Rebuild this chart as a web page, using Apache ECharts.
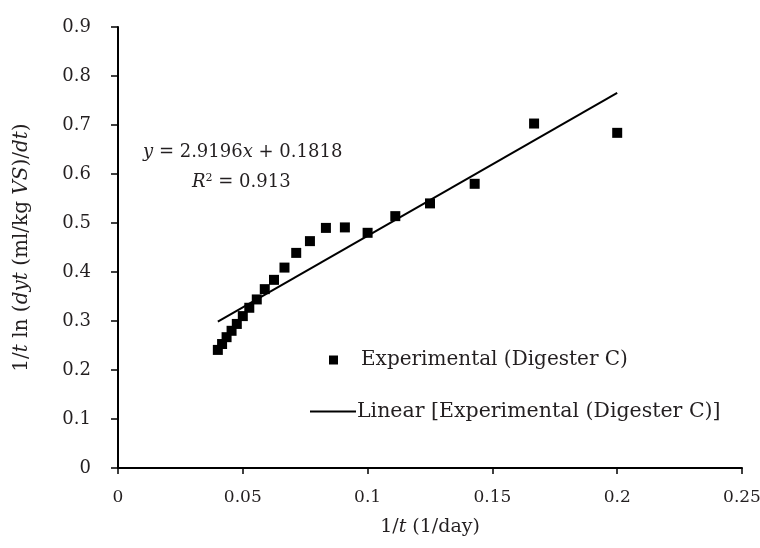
<!DOCTYPE html>
<html>
<head>
<meta charset="utf-8">
<script src="https://cdn.jsdelivr.net/npm/echarts@6/dist/echarts.min.js"></script>
<style>
  html, body { margin: 0; padding: 0; background: #fff; }
  #chart { width: 760px; height: 548px; }
</style>
</head>
<body>
<div id="chart"></div>
<script>
// 1/t values (1/day) for t = 25 ... 5 days
var invT = [0.04, 0.0417, 0.0435, 0.0455, 0.0476, 0.05, 0.0526, 0.0556, 0.0588, 0.0625,
  0.0667, 0.0714, 0.0769, 0.0833, 0.0909, 0.1, 0.1111, 0.125, 0.1429, 0.1667, 0.2]
// measured 1/t ln(dyt/dt)
var rate = [0.241, 0.253, 0.267, 0.280, 0.294, 0.310, 0.327, 0.344, 0.365, 0.384,
  0.409, 0.439, 0.463, 0.490, 0.491, 0.480, 0.514, 0.540, 0.580, 0.703, 0.684]
// linear trend end points
var trendX = [0.04, 0.2]
var trendY = [0.2986, 0.7657]

var FONT = '"DejaVu Serif", "Liberation Serif", serif'
var INK = '#231f20'
var FS = 18

var expData = invT.map(function (x, i) { return [x, rate[i]] })
var trendData = trendX.map(function (x, i) { return [x, trendY[i]] })

var chart = echarts.init(document.getElementById('chart'))
chart.setOption({
  backgroundColor: '#fff',
  animation: false,
  textStyle: { fontFamily: FONT, color: INK },
  grid: { left: 118, right: 18, top: 27, bottom: 80, outerBoundsMode: 'none' },
  xAxis: {
    type: 'value',
    min: 0,
    max: 0.25,
    interval: 0.05,
    name: '1/{i|t} (1/day)',
    nameLocation: 'middle',
    nameGap: 50,
    nameTextStyle: {
      fontFamily: FONT, fontSize: 19, color: INK,
      rich: { i: { fontFamily: FONT, fontSize: 19, fontStyle: 'italic', color: INK } }
    },
    axisLine: { lineStyle: { color: '#000', width: 2 } },
    axisTick: { inside: false, length: 6, lineStyle: { color: '#000', width: 1.5 } },
    axisLabel: { fontFamily: FONT, fontSize: 17, color: INK, margin: 21 },
    splitLine: { show: false }
  },
  yAxis: {
    type: 'value',
    min: 0,
    max: 0.9,
    interval: 0.1,
    name: '1/{i|t} ln ({i|dyt} (ml/kg {i|VS})/{i|dt})',
    nameLocation: 'middle',
    nameRotate: 90,
    nameGap: 86,
    nameTextStyle: {
      fontFamily: FONT, fontSize: 20, color: INK,
      rich: { i: { fontFamily: FONT, fontSize: 20, fontStyle: 'italic', color: INK } }
    },
    axisLine: { show: true, lineStyle: { color: '#000', width: 2 } },
    axisTick: { show: true, inside: false, length: 7, lineStyle: { color: '#000', width: 1.5 } },
    axisLabel: { fontFamily: FONT, fontSize: FS, color: INK, margin: 27 },
    splitLine: { show: false }
  },
  legend: [
    {
      data: ['Experimental (Digester C)'],
      left: 324,
      top: 345,
      icon: 'rect',
      itemWidth: 9,
      itemHeight: 9,
      textStyle: { fontFamily: FONT, fontSize: 20, color: INK, padding: [0, 0, 0, 18] }
    },
    {
      data: ['Linear [Experimental (Digester C)]'],
      left: 305,
      top: 396,
      icon: 'rect',
      itemWidth: 46,
      itemHeight: 2,
      textStyle: { fontFamily: FONT, fontSize: 20.5, color: INK, padding: [0, 0, 0, -4] }
    }
  ],
  graphic: [
    {
      type: 'text',
      left: 143,
      top: 143,
      style: {
        text: '{i|y} = 2.9196{i|x} + 0.1818',
        fontFamily: FONT, fontSize: FS, fill: INK,
        rich: { i: { fontFamily: FONT, fontSize: FS, fontStyle: 'italic', fill: INK } }
      }
    },
    {
      type: 'text',
      left: 192,
      top: 173,
      style: {
        text: '{i|R}{s|2} = 0.913',
        fontFamily: FONT, fontSize: FS, fill: INK,
        rich: {
          i: { fontFamily: FONT, fontSize: FS, fontStyle: 'italic', fill: INK },
          s: { fontFamily: FONT, fontSize: 11, fill: INK, verticalAlign: 'top', padding: [0, 0, 8, 0] }
        }
      }
    }
  ],
  series: [
    {
      name: 'Experimental (Digester C)',
      type: 'scatter',
      symbol: 'rect',
      symbolSize: 10,
      itemStyle: { color: '#000', opacity: 1 },
      data: expData
    },
    {
      name: 'Linear [Experimental (Digester C)]',
      type: 'line',
      symbol: 'none',
      lineStyle: { color: '#000', width: 2 },
      itemStyle: { color: '#000' },
      data: trendData
    }
  ]
})
</script>
</body>
</html>
